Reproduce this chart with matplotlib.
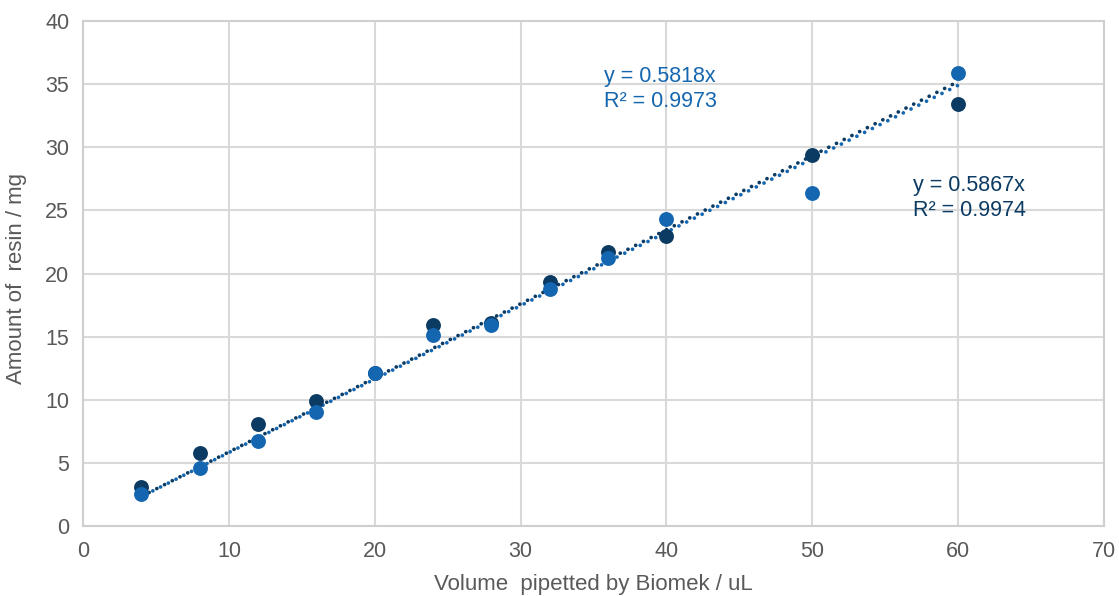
import matplotlib.pyplot as plt
import numpy as np

plt.rcParams["font.family"] = ["Liberation Sans", "DejaVu Sans"]

# volume pipetted (uL)
volume = [4, 8, 12, 16, 20, 24, 28, 32, 36, 40, 50, 60]
# amount of resin (mg), two series
resin_dark = [3.1, 5.8, 8.1, 9.9, 12.1, 15.9, 16.1, 19.3, 21.7, 23.0, 29.4, 33.4]
resin_light = [2.5, 4.6, 6.7, 9.0, 12.1, 15.1, 15.9, 18.8, 21.2, 24.3, 26.4, 35.9]

# trendline slopes (through origin) and R²
slope_dark, r2_dark = 0.5867, 0.9974
slope_light, r2_light = 0.5818, 0.9973

dark = "#0b3a62"
light = "#1566b0"
grid = "#d9d9d9"
text_gray = "#595959"

fig = plt.figure(figsize=(11.19, 5.96), dpi=100)
ax = fig.add_axes([0.0742, 0.1174, 0.9124, 0.8474])

# dotted trendlines
x = np.array(volume, dtype=float)
xl = np.array([x.min(), x.max()])
ax.plot(xl, slope_dark * xl, color=dark, linestyle=(0, (0.01, 2.3)),
        linewidth=2.7, dash_capstyle="round", zorder=2)
ax.plot(xl, slope_light * xl, color=light, linestyle=(1.2, (0.01, 2.3)),
        linewidth=2.7, dash_capstyle="round", zorder=2)

ax.scatter(volume, resin_dark, s=115, color=dark, zorder=3, linewidths=0)
ax.scatter(volume, resin_light, s=115, color=light, zorder=4, linewidths=0)

ax.text(35.7, 34.6, f"y = {slope_light}x\nR² = {r2_light}", color=light,
        fontsize=15.5, va="center", ha="left", linespacing=1.25)
ax.text(56.9, 26.0, f"y = {slope_dark}x\nR² = {r2_dark}", color=dark,
        fontsize=15.5, va="center", ha="left", linespacing=1.25)

ax.set_xlim(0, 70)
ax.set_ylim(0, 40)
ax.set_xticks(np.arange(0, 71, 10))
ax.set_yticks(np.arange(0, 41, 5))
ax.grid(True, color=grid, linewidth=1.5)
ax.set_axisbelow(True)
for s in ax.spines.values():
    s.set_color("#cfcfcf")
    s.set_linewidth(1.5)
ax.tick_params(length=0, labelsize=15.5, labelcolor=text_gray)
ax.tick_params(axis="y", pad=10)
ax.tick_params(axis="x", pad=11)
ax.set_xlabel("Volume  pipetted by Biomek / uL", fontsize=16, color=text_gray)
ax.set_ylabel("Amount of  resin / mg", fontsize=16, color=text_gray)
ax.xaxis.set_label_coords(0.5, -0.094)
ax.yaxis.set_label_coords(-0.055, 0.49)

fig.savefig("out.png", dpi=100)
